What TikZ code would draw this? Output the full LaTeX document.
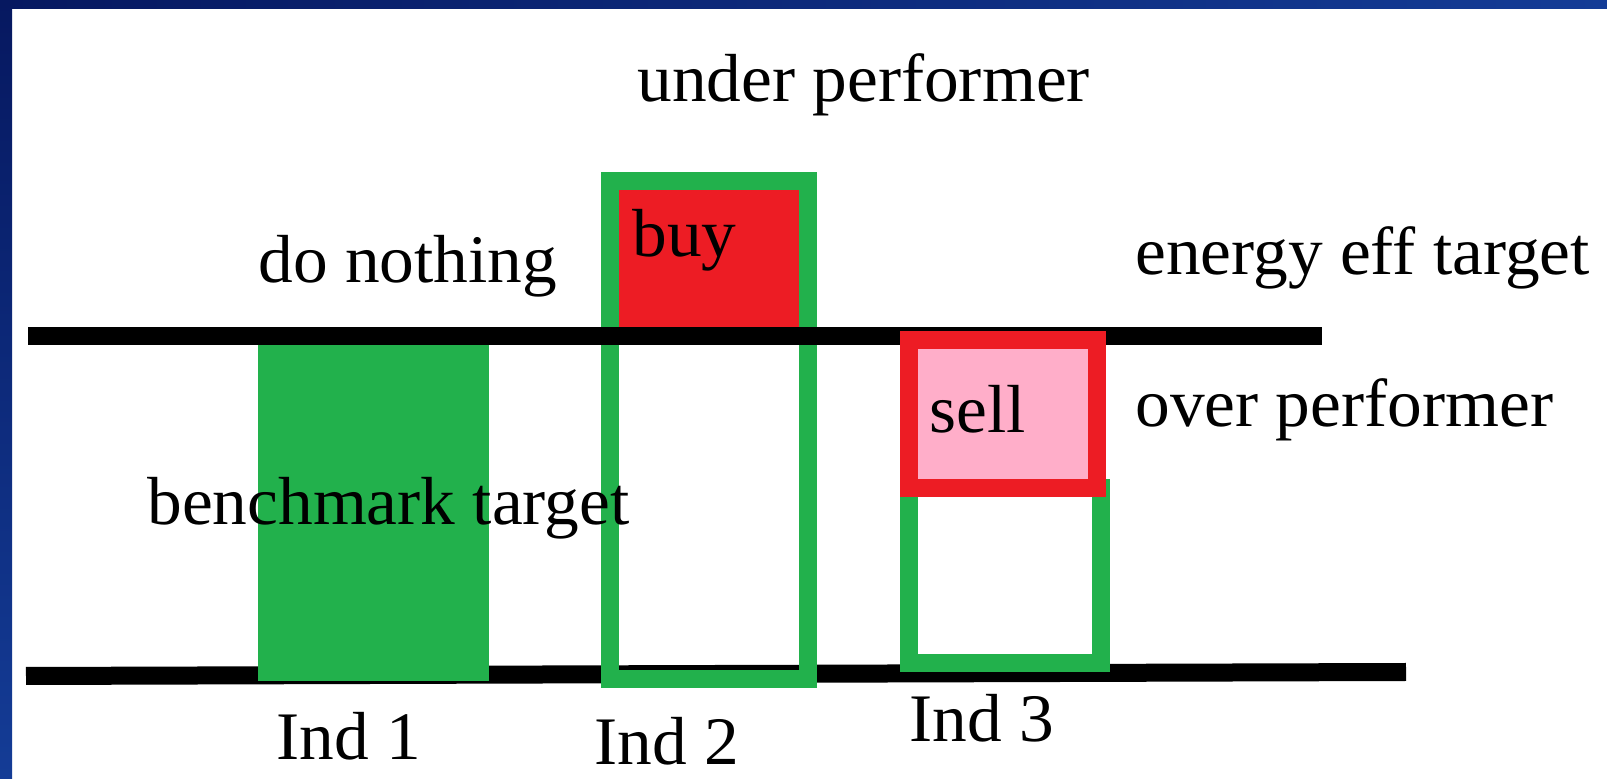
\documentclass[tikz,border=0pt]{standalone}
\usepackage{fontspec}
\setmainfont[FakeStretch=1.02]{Liberation Serif}
\definecolor{paintgreen}{RGB}{34,177,76}
\definecolor{paintred}{RGB}{237,28,36}
\definecolor{paintpink}{RGB}{255,174,201}
\definecolor{framedark}{RGB}{6,24,96}
\definecolor{framemid}{RGB}{20,60,150}
\tikzset{
  label/.style={anchor=base west, inner sep=0pt, font=\fontsize{34}{40}\selectfont},
  bar/.style={line width=9pt, black, line cap=butt},
  border/.style={line width=9pt, line join=miter},
}
\begin{document}
\begin{tikzpicture}[x=0.5pt, y=-0.5pt]
  \useasboundingbox (0,0) rectangle (1607,779);
  % page and its blue frame
  \fill[white] (0,0) rectangle (1607,779);
  \shade[left color=framedark, right color=framemid] (0,0) rectangle (1607,9);
  \shade[top color=framedark, bottom color=framemid] (0,0) rectangle (12,779);

  % benchmark line
  \draw[bar] (26,676) coordinate (bl) -- (1406,672) coordinate (br);

  % Ind 1: solid bar
  \fill[paintgreen] (258,345) rectangle (489,681);

  % Ind 2: outline with the part above the target
  \fill[paintred] (619,190) rectangle (799,327);
  \draw[border, paintgreen] (610,181) rectangle (808,679);

  % Ind 3: outline
  \draw[border, paintgreen, line cap=butt] (909,497) -- (909,663) -- (1101,663) -- (1101,479);

  % energy efficiency target line
  \draw[bar] (28,336) coordinate (tl) -- (1322,336) coordinate (tr);

  % Ind 3: part below the target
  \draw[border, paintred, fill=paintpink] (909,340) rectangle (1097,488);

  % labels
  \node[label] (under) at (637,102) {under performer};
  \node[label] (nothing) at (258,283) {do nothing};
  \node[label] (buy) at (632,257) {buy};
  \node[label] (energy) at (1135,275) {energy eff target};
  \node[label] (over) at (1135,427) {over performer};
  \node[label] (sell) at (929,433) {sell};
  \node[label] (bench) at (147,525) {benchmark target};
  \node[label] (ind1) at (276,760) {Ind 1};
  \node[label] (ind2) at (594,765) {Ind 2};
  \node[label] (ind3) at (909,742) {Ind 3};
\end{tikzpicture}
\end{document}
